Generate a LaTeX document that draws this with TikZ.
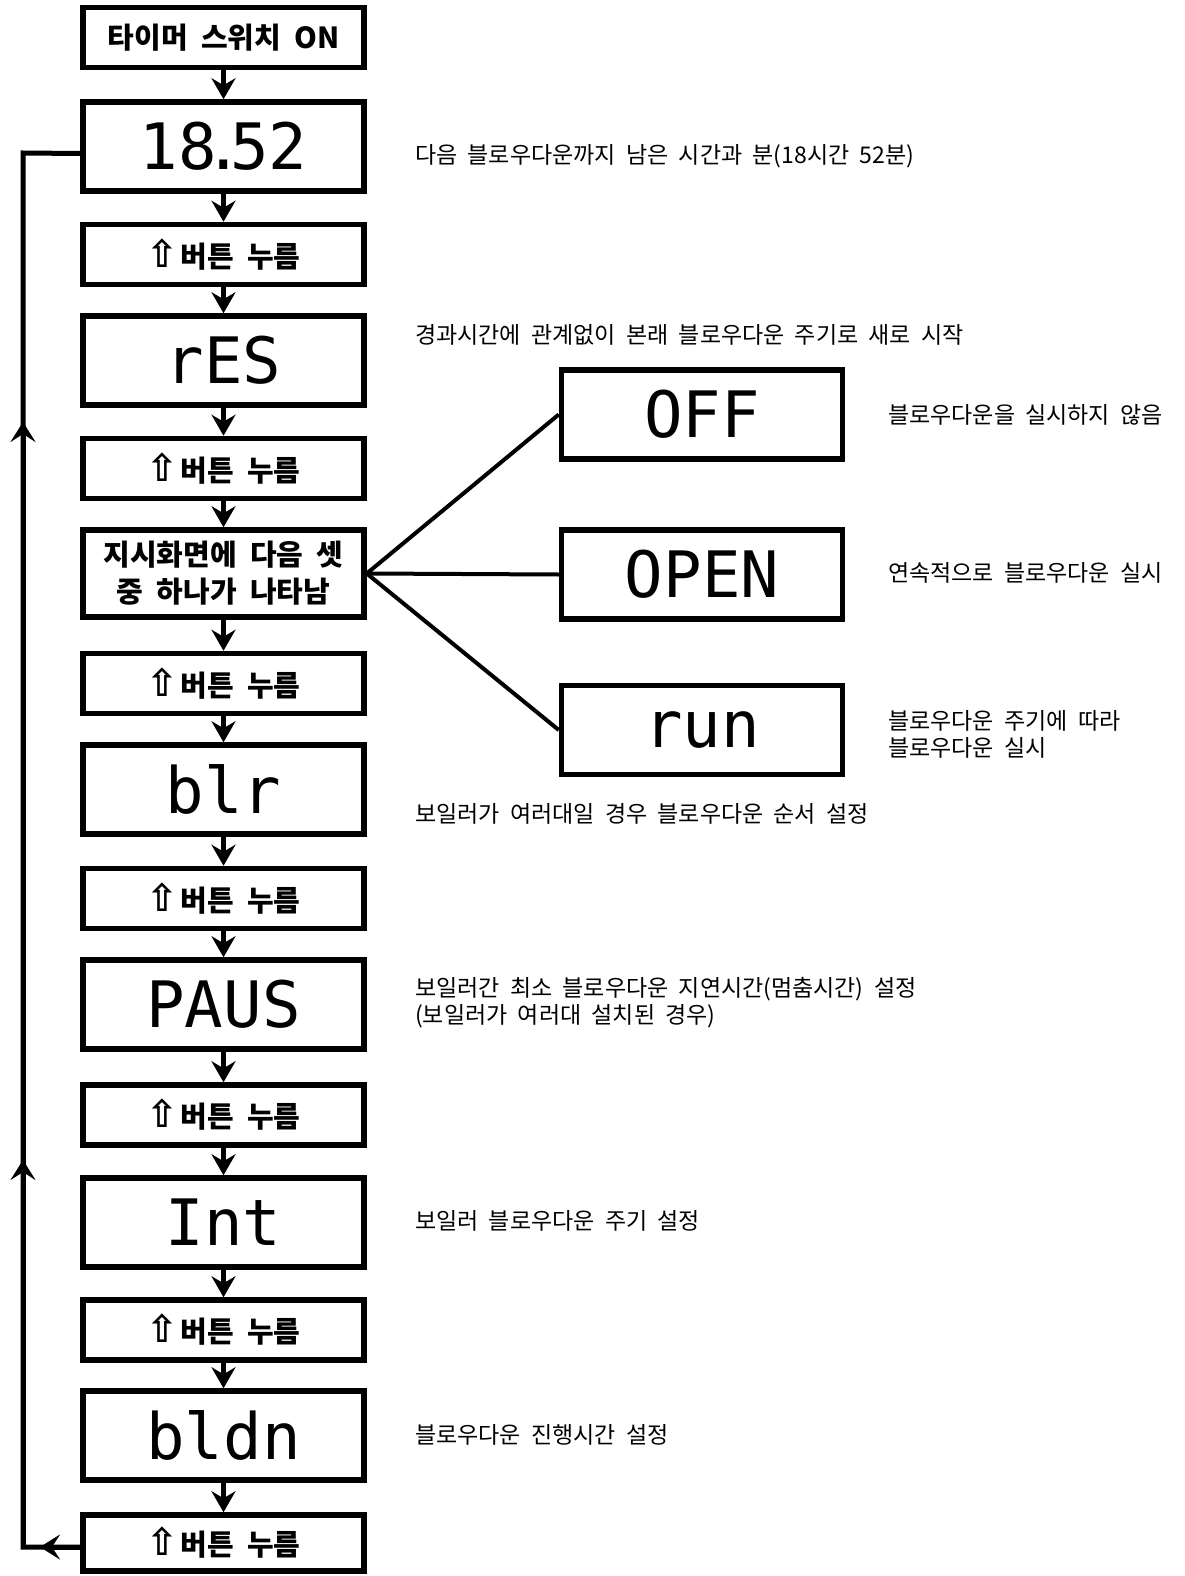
\documentclass[tikz,border=0pt]{standalone}
\usepackage{fontspec}
\setmainfont{Noto Sans CJK KR}[WordSpace=2]
\newfontfamily\lcdfont{DejaVu Sans Mono}
\newfontfamily\symfont{DejaVu Sans}
\usetikzlibrary{arrows.meta}
\tikzset{
  lcdbox/.style={draw, line width=5.5pt, minimum width=281pt, minimum height=89pt, inner sep=0pt,
    font=\lcdfont\fontsize{64}{64}\selectfont},
  keybox/.style={draw, line width=5.5pt, minimum width=281pt, minimum height=60pt, inner sep=0pt,
    font=\bfseries\fontsize{29}{37}\selectfont},
  note/.style={anchor=west, inner sep=0pt, align=left,
    font=\fontsize{23}{27}\selectfont},
  flowarrow/.style={line width=4.5pt, -{Stealth[length=21pt,width=24pt,inset=7pt]}},
  branchline/.style={line width=4pt},
  loopline/.style={line width=5pt},
  looparrow/.style={line width=5pt, -{Stealth[length=20pt,width=25pt,inset=8pt]}}
}
\newcommand{\pushkey}{{\symfont\fontsize{38}{38}\selectfont ⇧}\kern2pt 버튼 누름}

\begin{document}
\begin{tikzpicture}[x=1pt, y=-1pt]
  \useasboundingbox (0,0) rectangle (1185,1576);

  % main column
  \node[keybox] (start) at (223.5,37.5) {타이머 스위치 ON};
  \node[lcdbox] (d1) at (223.5,146.5) {18\kern-.2em.\kern-.2em52};
  \node[keybox] (k1) at (223.5,254.5) {\pushkey};
  \node[lcdbox] (d2) at (223.5,360.5) {rES};
  \node[keybox] (k2) at (223.5,468.5) {\pushkey};
  \node[keybox, minimum height=87pt, align=center] (pick) at (223.5,573.5) {지시화면에 다음 셋\\중 하나가 나타남};
  \node[keybox] (k3) at (223.5,683.5) {\pushkey};
  \node[lcdbox] (d3) at (223.5,789.5) {blr};
  \node[keybox] (k4) at (223.5,898.5) {\pushkey};
  \node[lcdbox] (d4) at (223.5,1004.5) {PAUS};
  \node[keybox] (k5) at (223.5,1115) {\pushkey};
  \node[lcdbox] (d5) at (223.5,1222.5) {Int};
  \node[keybox] (k6) at (223.5,1330) {\pushkey};
  \node[lcdbox] (d6) at (223.5,1435.5) {bldn};
  \node[keybox, minimum height=56pt] (k7) at (223.5,1543) {\pushkey};

  % three choices
  \node[lcdbox] (off) at (702,414.5) {OFF};
  \node[lcdbox] (open) at (702,574.5) {OPEN};
  \node[lcdbox] (run) at (702,730) {run};

  % notes
  \node[note] (n1) at (415,156) {다음 블로우다운까지 남은 시간과 분(18시간 52분)};
  \node[note] (n2) at (415,335) {경과시간에 관계없이 본래 블로우다운 주기로 새로 시작};
  \node[note] (n3) at (888,415) {블로우다운을 실시하지 않음};
  \node[note] (n4) at (888,573) {연속적으로 블로우다운 실시};
  \node[note] (n5) at (888,734) {블로우다운 주기에 따라\\블로우다운 실시};
  \node[note] (n6) at (415,814) {보일러가 여러대일 경우 블로우다운 순서 설정};
  \node[note] (n7) at (415,1003) {보일러간 최소 블로우다운 지연시간(멈춤시간) 설정\\(보일러가 여러대 설치된 경우)};
  \node[note] (n8) at (415,1221) {보일러 블로우다운 주기 설정};
  \node[note] (n9) at (415,1435) {블로우다운 진행시간 설정};

  \draw[flowarrow] (start) -- (d1);
  \draw[flowarrow] (d1) -- (k1);
  \draw[flowarrow] (k1) -- (d2);
  \draw[flowarrow] (d2) -- (k2);
  \draw[flowarrow] (k2) -- (pick);
  \draw[flowarrow] (pick) -- (k3);
  \draw[flowarrow] (k3) -- (d3);
  \draw[flowarrow] (d3) -- (k4);
  \draw[flowarrow] (k4) -- (d4);
  \draw[flowarrow] (d4) -- (k5);
  \draw[flowarrow] (k5) -- (d5);
  \draw[flowarrow] (d5) -- (k6);
  \draw[flowarrow] (k6) -- (d6);
  \draw[flowarrow] (d6) -- (k7);

  \draw[branchline] (pick.east) -- (off.west);
  \draw[branchline] (pick.east) -- (open.west);
  \draw[branchline] (pick.east) -- (run.west);

  % return path
  \coordinate (fb1) at (23,1547);
  \coordinate (fb2) at (23,153);
  \coordinate (tipL) at (40,1547);
  \coordinate (tipU1) at (23,1160);
  \coordinate (tipU2) at (23,422);
  \draw[loopline] ([yshift=-4pt]k7.west) -- (fb1) -- (fb2) -- ([yshift=-7pt]d1.west);
  \draw[looparrow] ([yshift=-4pt]k7.west) -- (tipL);
  \draw[looparrow] (fb1) -- (tipU1);
  \draw[looparrow] (fb1) -- (tipU2);
\end{tikzpicture}
\end{document}
